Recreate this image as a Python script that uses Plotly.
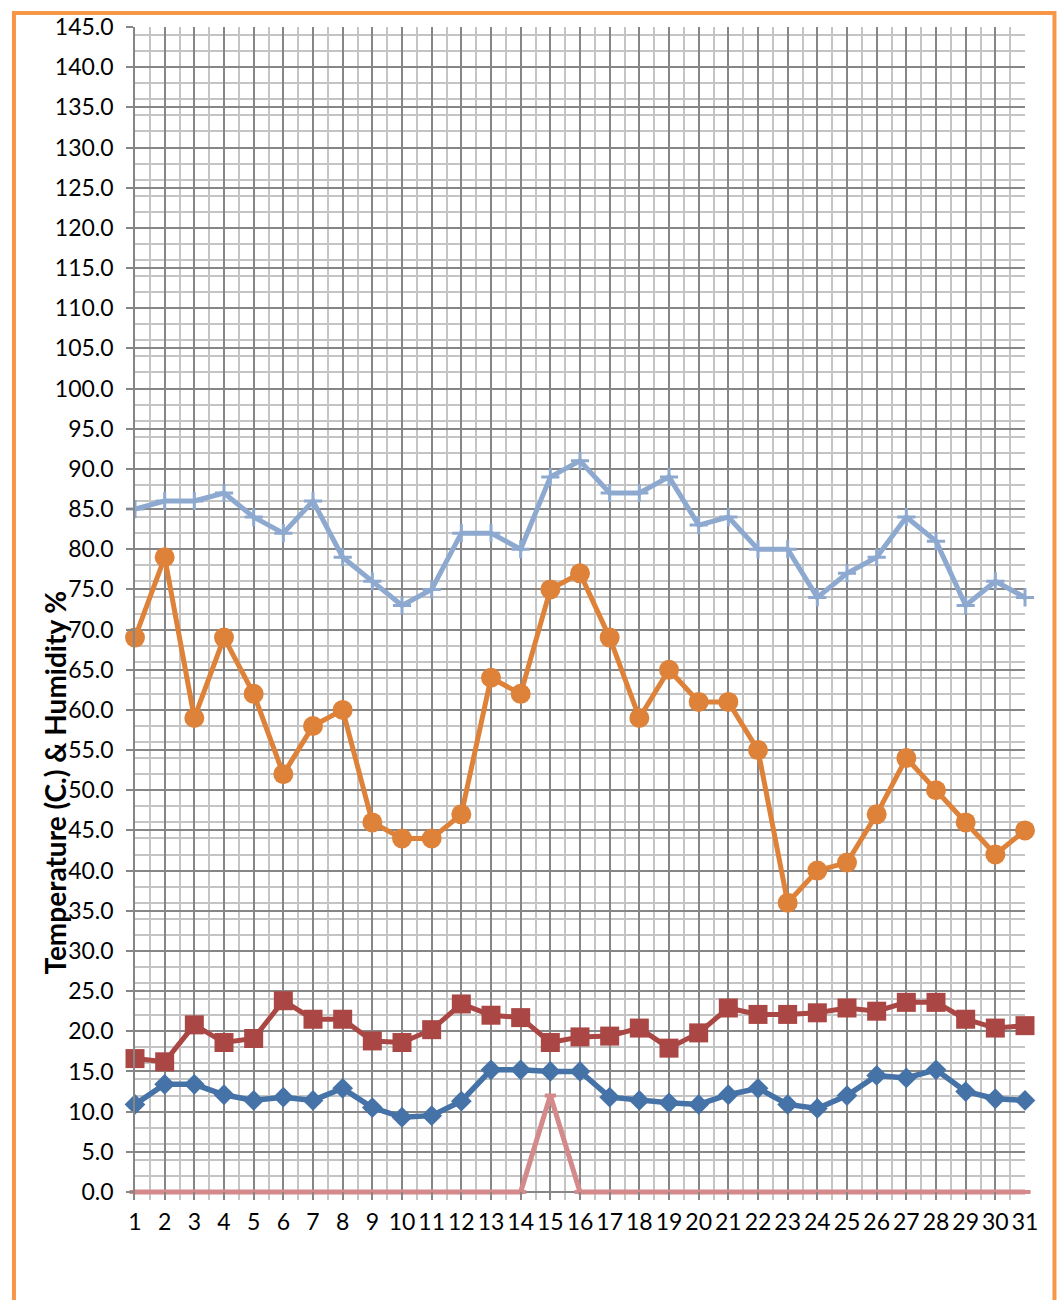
import plotly.graph_objects as go

days = list(range(1, 32))
min_temp = [10.9, 13.4, 13.4, 12.1, 11.4, 11.8, 11.4, 12.9, 10.5, 9.3, 9.5, 11.3, 15.2, 15.2, 15.0, 15.0,
            11.8, 11.4, 11.1, 10.9, 12.1, 12.9, 10.9, 10.4, 12.0, 14.5, 14.2, 15.2, 12.5, 11.6, 11.4]
max_temp = [16.6, 16.2, 20.8, 18.6, 19.1, 23.8, 21.5, 21.5, 18.8, 18.6, 20.2, 23.4, 22.0, 21.7, 18.6, 19.3,
            19.4, 20.4, 17.9, 19.8, 22.9, 22.1, 22.1, 22.3, 22.9, 22.5, 23.6, 23.6, 21.5, 20.4, 20.7]
max_humidity = [85, 86, 86, 87, 84, 82, 86, 79, 76, 73, 75, 82, 82, 80, 89, 91,
                87, 87, 89, 83, 84, 80, 80, 74, 77, 79, 84, 81, 73, 76, 74]
min_humidity = [69, 79, 59, 69, 62, 52, 58, 60, 46, 44, 44, 47, 64, 62, 75, 77,
                69, 59, 65, 61, 61, 55, 36, 40, 41, 47, 54, 50, 46, 42, 45]
rain = [0, 0, 0, 0, 0, 0, 0, 0, 0, 0, 0, 0, 0, 0, 12, 0,
        0, 0, 0, 0, 0, 0, 0, 0, 0, 0, 0, 0, 0, 0, 0]
y_title = "Temperature (C.) & Humidity %"

FONT = "Lato"
MAJOR = "#868686"
MINOR = "#C4C4C4"
fig = go.Figure()
fig.add_trace(go.Scatter(x=days, y=max_humidity, mode="lines+markers",
                         line=dict(color="#8EA9D0", width=5),
                         marker=dict(symbol="cross-thin", size=13, line=dict(color="#8EA9D0", width=3)),
                         showlegend=False, cliponaxis=False))
fig.add_trace(go.Scatter(x=days, y=min_humidity, mode="lines+markers",
                         line=dict(color="#DE8139", width=5),
                         marker=dict(symbol="circle", size=20, color="#DE8139"),
                         showlegend=False, cliponaxis=False))
fig.add_trace(go.Scatter(x=days, y=max_temp, mode="lines+markers",
                         line=dict(color="#AA4643", width=5),
                         marker=dict(symbol="square", size=19, color="#AA4643"),
                         showlegend=False, cliponaxis=False))
fig.add_trace(go.Scatter(x=days, y=min_temp, mode="lines+markers",
                         line=dict(color="#4572A7", width=5.5),
                         marker=dict(symbol="diamond", size=16, color="#4572A7"),
                         showlegend=False, cliponaxis=False))
fig.add_trace(go.Scatter(x=days, y=rain, mode="lines+markers",
                         line=dict(color="#D4898B", width=5),
                         marker=dict(symbol="line-ew", size=8, line=dict(color="#D4898B", width=4)),
                         showlegend=False, cliponaxis=False))

fig.update_layout(
    width=1063, height=1300,
    margin=dict(l=135, r=38, t=20, b=100),
    paper_bgcolor="white", plot_bgcolor="white",
    font=dict(family=FONT, size=23, color="black"),
    xaxis=dict(range=[1, 31], tickmode="array", tickvals=days, ticktext=[str(d) for d in days],
               showgrid=True, gridcolor=MAJOR, gridwidth=1.5,
               minor=dict(dtick=0.5, tick0=0.5, showgrid=True, gridcolor=MINOR, gridwidth=1.5),
               showline=False,
               ticks="inside", ticklen=8, tickcolor=MAJOR, tickwidth=1.5, ticklabelstandoff=6,
               tickfont=dict(family=FONT, size=23), zeroline=False),
    yaxis=dict(range=[-1, 145], tickmode="array", tickvals=list(range(0, 146, 5)),
               ticktext=["%.1f" % v for v in range(0, 146, 5)],
               showgrid=True, gridcolor=MAJOR, gridwidth=1.5,
               minor=dict(dtick=2, tick0=0, showgrid=True, gridcolor=MINOR, gridwidth=1.5),
               showline=True, linecolor=MAJOR, linewidth=1.5,
               ticks="outside", ticklen=7, tickcolor=MAJOR, tickwidth=1.5, ticklabelstandoff=8,
               tickfont=dict(family=FONT, size=23),
               zeroline=True, zerolinecolor=MAJOR, zerolinewidth=1.5),
)

fig.add_annotation(text="<b>" + y_title + "</b>", textangle=-90, xref="paper", yref="paper",
                   x=-0.0903, y=0.3556, xanchor="center", yanchor="middle", showarrow=False,
                   font=dict(family=FONT, size=28, color="black"))

fig.add_shape(type="rect", xref="paper", yref="paper", x0=-0.136, x1=1.0331, y0=1.0119, y1=-0.2,
              line=dict(color="#F79646", width=4), fillcolor="rgba(0,0,0,0)", layer="below")

fig.write_html("out.html", config={"displayModeBar": False},
               post_script="document.body.style.margin='0';")
